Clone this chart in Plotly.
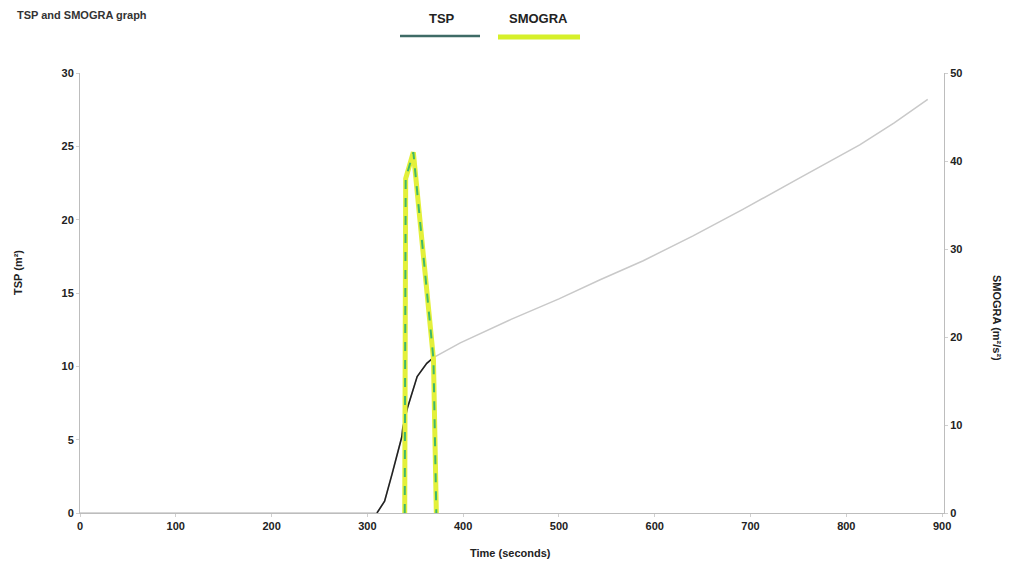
import plotly.graph_objects as go

# ---- data ----
tsp_time = [0, 100, 200, 300, 310, 318, 326, 336, 337, 342, 352, 362, 369, 397, 450, 500, 543, 588, 640, 692, 750, 814, 850, 885]
tsp_value = [0, 0, 0, 0, 0, 0.8, 2.7, 5.2, 5.8, 7.2, 9.3, 10.2, 10.6, 11.6, 13.2, 14.6, 15.9, 17.2, 18.9, 20.7, 22.8, 25.1, 26.6, 28.2]
# indices of the darker rising part of the TSP curve
tsp_dark_start, tsp_dark_end = 4, 13

smogra_time = [339, 340, 348, 369, 372]
smogra_value = [0, 38, 41, 17.5, 0]

x_ticks = [0, 100, 200, 300, 400, 500, 600, 700, 800, 900]
y1_ticks = [0, 5, 10, 15, 20, 25, 30]
y2_ticks = [0, 10, 20, 30, 40, 50]

# page is rendered with an 8px body margin -> shrink figure and offset coordinates
OFF = 8
W, H = 1010 - OFF, 569 - OFF
L, R, T, B = 80 - OFF, 1010 - 944, 73 - OFF, 569 - 513
pw, ph = W - L - R, H - T - B

def px(x):
    return (x - OFF - L) / pw

def py(y):
    return 1 - (y - OFF - T) / ph

tick_font = dict(family="Liberation Sans", size=11, color="#222222", weight="bold")

fig = go.Figure()

# faint full TSP curve
fig.add_trace(go.Scatter(x=tsp_time, y=tsp_value, mode="lines",
                         line=dict(color="#c9c9c9", width=1.5),
                         showlegend=False, hoverinfo="skip"))
# darker rising part
fig.add_trace(go.Scatter(x=tsp_time[tsp_dark_start:tsp_dark_end],
                         y=tsp_value[tsp_dark_start:tsp_dark_end], mode="lines",
                         line=dict(color="#222222", width=1.6), name="TSP",
                         showlegend=False))
# SMOGRA spike (yellow band with green dashes)
fig.add_trace(go.Scatter(x=smogra_time, y=smogra_value, mode="lines", yaxis="y2",
                         line=dict(color="#e3f03a", width=5), name="SMOGRA",
                         showlegend=False))
fig.add_trace(go.Scatter(x=smogra_time, y=smogra_value, mode="lines", yaxis="y2",
                         line=dict(color="#3fb86a", width=2, dash="dash"),
                         showlegend=False, hoverinfo="skip"))

axis_line = dict(showline=True, linecolor="#bdbdbd", linewidth=1, showgrid=False,
                 zeroline=False, ticks="outside", ticklen=3, tickcolor="#cfcfcf")

fig.update_layout(
    width=W, height=H,
    margin=dict(l=L, r=R, t=T, b=B),
    paper_bgcolor="white", plot_bgcolor="white",
    showlegend=False,
    xaxis=dict(range=[0, 902], tickvals=x_ticks, tickfont=tick_font, **axis_line),
    yaxis=dict(range=[0, 30], tickvals=y1_ticks, tickfont=tick_font, **axis_line),
    yaxis2=dict(range=[0, 50], tickvals=y2_ticks, tickfont=tick_font, overlaying="y",
                side="right", **axis_line),
)

title_font = dict(family="Liberation Sans", size=11, color="#222222", weight="bold")
fig.add_annotation(text="TSP (m²)", xref="paper", yref="paper", x=px(18), y=py(273),
                   textangle=-90, showarrow=False, font=title_font,
                   xanchor="center", yanchor="middle")
fig.add_annotation(text="SMOGRA (m²/s²)", xref="paper", yref="paper", x=px(997), y=py(318),
                   textangle=90, showarrow=False, font=title_font,
                   xanchor="center", yanchor="middle")
fig.add_annotation(text="Time (seconds)", xref="paper", yref="paper", x=px(510), y=py(553),
                   showarrow=False, font=title_font, xanchor="center", yanchor="middle")

# legend drawn manually (text above line sample)
leg_font = dict(family="Liberation Sans Narrow, Liberation Sans", size=13, color="#222222",
                weight="bold")
fig.add_annotation(text="TSP", xref="paper", yref="paper", x=px(442), y=py(19),
                   showarrow=False, font=leg_font, xanchor="center", yanchor="middle")
fig.add_annotation(text="SMOGRA", xref="paper", yref="paper", x=px(538), y=py(19),
                   showarrow=False, font=leg_font, xanchor="center", yanchor="middle")
fig.add_shape(type="line", xref="paper", yref="paper", x0=px(400), x1=px(480),
              y0=py(36), y1=py(36), line=dict(color="#3e6b66", width=2.5))
fig.add_shape(type="line", xref="paper", yref="paper", x0=px(498), x1=px(580),
              y0=py(37), y1=py(37), line=dict(color="#d6f02a", width=5))

# title at top-left (partly cut in the scan)
fig.add_annotation(text="TSP and SMOGRA graph", xref="paper", yref="paper", x=px(15), y=py(15),
                   showarrow=False, font=dict(family="Liberation Sans", size=11, color="#333333",
                                              weight="bold"),
                   xanchor="left", yanchor="middle")

fig.write_html("out.html")
